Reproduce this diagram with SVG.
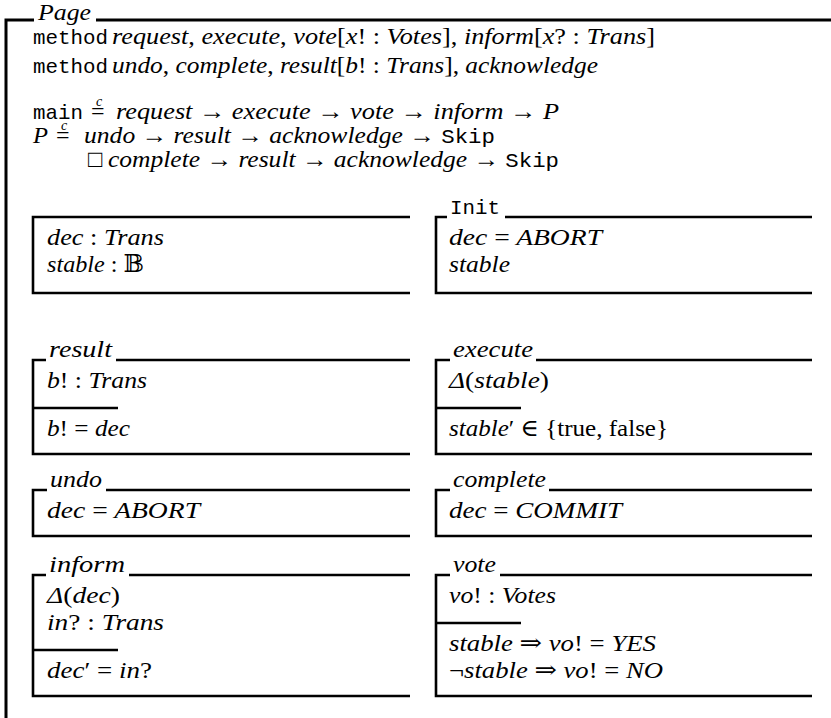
<svg xmlns="http://www.w3.org/2000/svg" width="831" height="718" viewBox="0 0 831 718">
<style>
text { fill: #000; }
.it { font-family: "Liberation Serif", "DejaVu Serif", "DejaVu Sans", serif; font-style: italic; font-size: 24px; }
.rm { font-family: "Liberation Serif", "DejaVu Serif", "DejaVu Sans", serif; font-style: normal; }
.tt { font-family: "Liberation Mono", "DejaVu Sans Mono", monospace; font-style: normal; font-size: 21px; }
.sm { font-family: "Liberation Serif", "DejaVu Serif", serif; font-style: italic; font-size: 14px; }
.frame { stroke: #000; stroke-width: 3; fill: none; }
.ln { stroke: #000; stroke-width: 2.6; fill: none; }
</style>
<rect x="0" y="0" width="831" height="718" fill="#ffffff"/>

<g id="page">
  <path class="frame" d="M34,20 H6 V718"/>
  <path class="frame" d="M96,20 H831"/>
  <text class="it" x="38" y="19.5" font-size="21.5" textLength="53" lengthAdjust="spacingAndGlyphs">Page</text>
</g>

<g id="methods">
  <text class="tt" x="33" y="44" textLength="75" lengthAdjust="spacingAndGlyphs">method</text>
  <text class="it" x="112" y="44" textLength="543" lengthAdjust="spacingAndGlyphs">request<tspan class="rm">, </tspan>execute<tspan class="rm">, </tspan>vote<tspan class="rm">[</tspan>x<tspan class="rm">! : </tspan>Votes<tspan class="rm">], </tspan>inform<tspan class="rm">[</tspan>x<tspan class="rm">? : </tspan>Trans<tspan class="rm">]</tspan></text>
  <text class="tt" x="33" y="73" textLength="75" lengthAdjust="spacingAndGlyphs">method</text>
  <text class="it" x="112" y="73" textLength="486" lengthAdjust="spacingAndGlyphs">undo<tspan class="rm">, </tspan>complete<tspan class="rm">, </tspan>result<tspan class="rm">[</tspan>b<tspan class="rm">! : </tspan>Trans<tspan class="rm">], </tspan>acknowledge</text>
</g>

<g id="main-def">
  <text class="tt" x="33" y="119" textLength="50" lengthAdjust="spacingAndGlyphs">main</text>
  <text class="it rm" x="91" y="119" font-size="27">=<tspan class="sm" x="96" y="106">c</tspan></text>
  <text class="it" x="116" y="119" textLength="443" lengthAdjust="spacingAndGlyphs">request <tspan class="rm">→</tspan> execute <tspan class="rm">→</tspan> vote <tspan class="rm">→</tspan> inform <tspan class="rm">→</tspan> P</text>
</g>

<g id="p-def">
  <text class="it" x="33" y="143" textLength="15" lengthAdjust="spacingAndGlyphs">P</text>
  <text class="it rm" x="56" y="143" font-size="27">=<tspan class="sm" x="61" y="130">c</tspan></text>
  <text class="it" x="84" y="143" textLength="411" lengthAdjust="spacingAndGlyphs">undo <tspan class="rm">→</tspan> result <tspan class="rm">→</tspan> acknowledge <tspan class="rm">→</tspan> <tspan class="tt">Skip</tspan></text>
  <text class="it rm" x="88" y="167" font-size="22">□</text>
  <text class="it" x="108" y="167" textLength="451" lengthAdjust="spacingAndGlyphs">complete <tspan class="rm">→</tspan> result <tspan class="rm">→</tspan> acknowledge <tspan class="rm">→</tspan> <tspan class="tt">Skip</tspan></text>
</g>

<g id="state">
  <path class="ln" d="M410,217 H33 V293 H410"/>
  <text class="it" x="47" y="245" textLength="117" lengthAdjust="spacingAndGlyphs">dec <tspan class="rm">:</tspan> Trans</text>
  <text class="it" x="47" y="272" textLength="97" lengthAdjust="spacingAndGlyphs">stable <tspan class="rm">: 𝔹</tspan></text>
</g>

<g id="init">
  <path class="ln" d="M447,217 H436 V293 H812"/>
  <path class="ln" d="M505,217 H812"/>
  <text class="tt" x="450" y="214" textLength="50" lengthAdjust="spacingAndGlyphs">Init</text>
  <text class="it" x="449" y="245" textLength="153" lengthAdjust="spacingAndGlyphs">dec <tspan class="rm">=</tspan> ABORT</text>
  <text class="it" x="449" y="272" textLength="61" lengthAdjust="spacingAndGlyphs">stable</text>
</g>

<g id="result">
  <path class="ln" d="M46,360 H33 V454 H410"/>
  <path class="ln" d="M116,360 H410"/>
  <path class="ln" d="M33,408 H118"/>
  <text class="it" x="49" y="357" textLength="63" lengthAdjust="spacingAndGlyphs">result</text>
  <text class="it" x="47" y="388" textLength="100" lengthAdjust="spacingAndGlyphs">b<tspan class="rm">! :</tspan> Trans</text>
  <text class="it" x="47" y="436" textLength="83" lengthAdjust="spacingAndGlyphs">b<tspan class="rm">! =</tspan> dec</text>
</g>

<g id="execute">
  <path class="ln" d="M450,360 H436 V454 H812"/>
  <path class="ln" d="M536,360 H812"/>
  <path class="ln" d="M436,408 H521"/>
  <text class="it" x="453" y="357" textLength="80" lengthAdjust="spacingAndGlyphs">execute</text>
  <text class="it" x="449" y="388" textLength="100" lengthAdjust="spacingAndGlyphs">Δ<tspan class="rm">(</tspan>stable<tspan class="rm">)</tspan></text>
  <text class="it" x="449" y="436" textLength="219" lengthAdjust="spacingAndGlyphs">stable<tspan class="rm">′ ∈ {true, false}</tspan></text>
</g>

<g id="undo">
  <path class="ln" d="M47,490 H33 V536 H410"/>
  <path class="ln" d="M106,490 H410"/>
  <text class="it" x="50" y="487" textLength="52" lengthAdjust="spacingAndGlyphs">undo</text>
  <text class="it" x="47" y="518" textLength="153" lengthAdjust="spacingAndGlyphs">dec <tspan class="rm">=</tspan> ABORT</text>
</g>

<g id="complete">
  <path class="ln" d="M450,490 H436 V536 H812"/>
  <path class="ln" d="M549,490 H812"/>
  <text class="it" x="453" y="487" textLength="93" lengthAdjust="spacingAndGlyphs">complete</text>
  <text class="it" x="449" y="518" textLength="173" lengthAdjust="spacingAndGlyphs">dec <tspan class="rm">=</tspan> COMMIT</text>
</g>

<g id="inform">
  <path class="ln" d="M46,575 H33 V696 H410"/>
  <path class="ln" d="M129,575 H410"/>
  <path class="ln" d="M33,650 H118"/>
  <text class="it" x="49" y="572" textLength="76" lengthAdjust="spacingAndGlyphs">inform</text>
  <text class="it" x="47" y="603" textLength="73" lengthAdjust="spacingAndGlyphs">Δ<tspan class="rm">(</tspan>dec<tspan class="rm">)</tspan></text>
  <text class="it" x="47" y="630" textLength="117" lengthAdjust="spacingAndGlyphs">in<tspan class="rm">? :</tspan> Trans</text>
  <text class="it" x="47" y="678" textLength="105" lengthAdjust="spacingAndGlyphs">dec<tspan class="rm">′ =</tspan> in<tspan class="rm">?</tspan></text>
</g>

<g id="vote">
  <path class="ln" d="M450,575 H436 V696 H812"/>
  <path class="ln" d="M500,575 H812"/>
  <path class="ln" d="M436,623 H521"/>
  <text class="it" x="453" y="572" textLength="43" lengthAdjust="spacingAndGlyphs">vote</text>
  <text class="it" x="449" y="603" textLength="107" lengthAdjust="spacingAndGlyphs">vo<tspan class="rm">! :</tspan> Votes</text>
  <text class="it" x="449" y="651" textLength="207" lengthAdjust="spacingAndGlyphs">stable <tspan class="rm">⇒</tspan> vo<tspan class="rm">! =</tspan> YES</text>
  <text class="it" x="449" y="678" textLength="214" lengthAdjust="spacingAndGlyphs"><tspan class="rm">¬</tspan>stable <tspan class="rm">⇒</tspan> vo<tspan class="rm">! =</tspan> NO</text>
</g>

<g id="connectors"></g>
</svg>
